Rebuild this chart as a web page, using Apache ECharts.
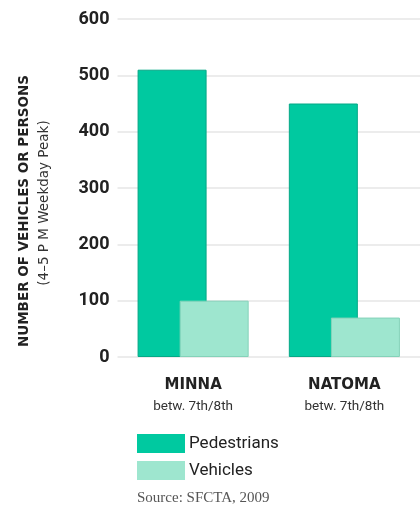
<!DOCTYPE html>
<html>
<head>
<meta charset="utf-8">
<script src="https://cdn.jsdelivr.net/npm/echarts@6/dist/echarts.min.js"></script>
<style>
  html, body { margin: 0; padding: 0; background: #fff; }
  #chart { width: 420px; height: 510px; }
</style>
</head>
<body>
<div id="chart"></div>
<script>
// data
const streets = ["MINNA", "NATOMA"];
const streetNotes = ["betw. 7th/8th", "betw. 7th/8th"];
const pedestrians = [510, 450];
const vehicles = [100, 70];
const yTicks = [0, 100, 200, 300, 400, 500, 600];

const chart = echarts.init(document.getElementById("chart"));

const option = {
  animation: false,
  grid: { left: 117.5, right: -1.5, top: 19, bottom: 153 },
  legend: {
    orient: "vertical",
    left: 137,
    top: 434,
    padding: 0,
    itemWidth: 48,
    itemHeight: 19,
    itemGap: 8,
    icon: "rect",
    itemStyle: { borderWidth: 0 },
    textStyle: { fontFamily: "Roboto", fontSize: 17, color: "#222", padding: [0, 0, 0, -1] },
    data: ["Pedestrians", "Vehicles"],
  },
  xAxis: {
    type: "category",
    data: streets,
    axisLine: { show: false },
    axisTick: { show: false },
    axisLabel: {
      margin: 17,
      formatter: (v, i) => "{a|" + v + "}\n{b|" + streetNotes[i] + "}",
      rich: {
        a: { fontFamily: "DejaVu Sans", fontWeight: "bold", fontSize: 15, color: "#222", lineHeight: 22 },
        b: { fontFamily: "Roboto", fontSize: 13.5, color: "#333", lineHeight: 21 },
      },
    },
  },
  yAxis: {
    type: "value",
    min: yTicks[0],
    max: yTicks[yTicks.length - 1],
    interval: 100,
    axisLine: { show: false },
    axisTick: { show: false },
    axisLabel: {
      margin: 8,
      fontFamily: "Roboto",
      fontWeight: "bold",
      fontSize: 18,
      color: "#222",
    },
    splitLine: { lineStyle: { color: "#e6e6e6", width: 1.5 } },
  },
  series: [
    {
      name: "Pedestrians",
      type: "bar",
      data: pedestrians,
      barWidth: 69,
      barGap: "-39%",
      itemStyle: { color: "#00C9A0", borderColor: "#05A886", borderWidth: 1 },
      z: 2,
    },
    {
      name: "Vehicles",
      type: "bar",
      data: vehicles,
      barWidth: 69,
      itemStyle: { color: "#9EE6CF", borderColor: "#84D2B9", borderWidth: 1 },
      z: 3,
    },
  ],
  graphic: [
    {
      type: "text",
      x: 24,
      y: 211,
      rotation: Math.PI / 2,
      style: {
        text: "NUMBER OF VEHICLES OR PERSONS",
        fontFamily: "DejaVu Sans",
        fontWeight: "bold",
        fontSize: 13.5,
        fill: "#222",
        align: "center",
        verticalAlign: "middle",
      },
    },
    {
      type: "text",
      x: 44,
      y: 203,
      rotation: Math.PI / 2,
      style: {
        text: "(4\u20135 P M Weekday Peak)",
        fontFamily: "DejaVu Sans",
        fontSize: 13.5,
        fill: "#333",
        align: "center",
        verticalAlign: "middle",
      },
    },
    {
      type: "text",
      left: 137,
      top: 491,
      style: {
        text: "Source: SFCTA, 2009",
        fontFamily: "Liberation Serif",
        fontSize: 15,
        fill: "#555",
      },
    },
  ],
};

chart.setOption(option);
</script>
</body>
</html>
